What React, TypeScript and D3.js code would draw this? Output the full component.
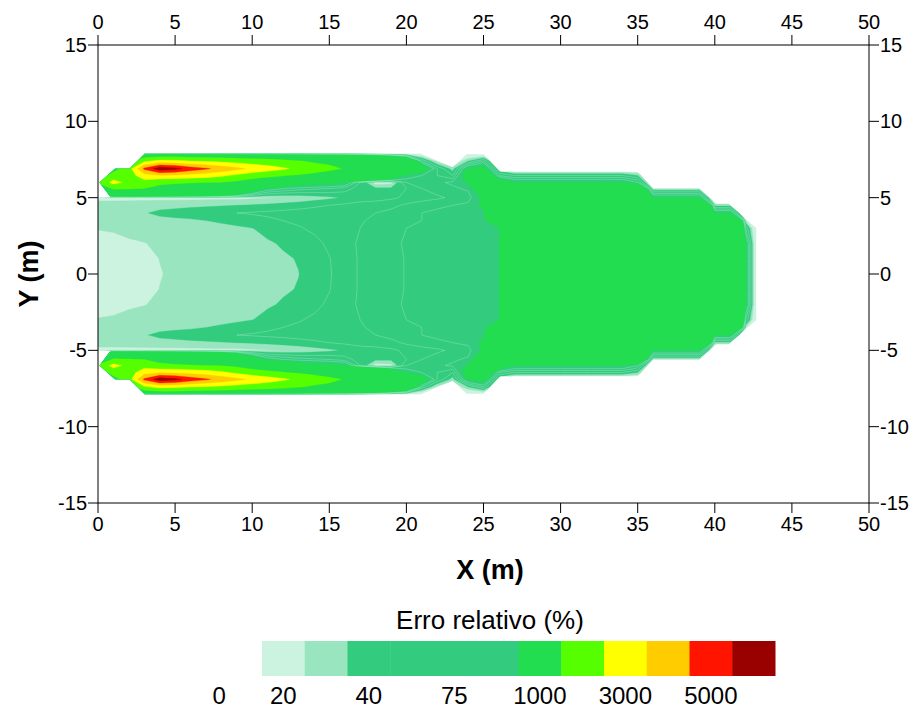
import React from "react";
import * as d3 from "d3";

// ---- grid nodes (m) ----
const xNodes = [0,1,2,3,4,5,6,7,8,9,10,11,12,13,14,15,16,17,18,19,20,21,22,23,24,25,26,27,28,29,30,31,32,33,34,35,36,37,38,39,40,41,42,42.7];
const yNodesUpper = [0,1,2,3,3.5,4,4.5,5,5.6,6,6.45,6.9,7.4,7.9];

// ---- relative error (%) read at grid nodes, upper half (field is symmetric about y=0) ----
const R300 = 300;
const errY0   = [12,13,14.5,17,19.7,21,22,23,24,25,26,27,28.2,29.8,34,39,46,51,54,57.5,60.5,63,65,67,69,71,74, R300,R300,R300,R300,R300,R300,R300,R300,R300,R300,R300,R300,R300,R300,R300, 80,-1];
const errY1   = [13,14,15.5,18,20.1,21.3,22.2,23.2,24.2,25.2,26.2,27.3,28.8,30.5,34.5,39.5,46,51,54,57.5,60.5,63,65,67,69,71,74, R300,R300,R300,R300,R300,R300,R300,R300,R300,R300,R300,R300,R300,R300,R300, 80,-1];
const errY2   = [16,17.5,19,19.8,21,22,23,24,25,26,27.3,28.8,31,34,37,42,47.5,51,54.5,58,61,63.5,65.5,67.5,69.5,71.5,74, R300,R300,R300,R300,R300,R300,R300,R300,R300,R300,R300,R300,R300,R300,R300, 80,-1];
const errY3   = [20.5,21,22,22.5,23,23.5,24,25,26.5,28,29.8,33,36,39,42,45,48,50,53,57,60,62,64,66,68,72,74, R300,R300,R300,R300,R300,R300,R300,R300,R300,R300,R300,R300,R300,R300,R300, 50,-1];
const errY3_5 = [22,22,23,24,26,27,28,30,32,34,36,38,40,42,44,46,48,49.5,51,54,57,60,62,64,67,70,110, R300,R300,R300,R300,R300,R300,R300,R300,R300,R300,R300,R300,R300,R300,R300, 20,-1];
const errY4   = [24.5,25,26,29,33,35,37,38,39,40,41,42,43,44,45,46,47,48,50,53,57,60,62,64,67,72,150, R300,R300,R300,R300,R300,R300,R300,R300,R300,R300,R300,R300,R300, 76,76,-1,-1];
const errY4_5 = [24,24,24.5,25,25.5,26,27,28,29,30,31,32.5,34,36,38,40,42,44,45,47,52,56,58,60,63,80,200, R300,R300,R300,R300,R300,R300,R300,R300,R300,R300,R300,R300,R300, 25,25,-1,-1];
const errY5   = [17,17,17,17,17,17,17,17,17,17,18,19,20,22,25,28,31,35,36,38,42,45,48,52,55,80,250, R300,R300,R300,R300,R300,R300,R300,R300,R300, 76,76,76,76, -1,-1,-1,-1];
const errY5_6 = [200,1100,1050,1000,865,700,600,480,350,220,110,70,60,55,52,50,45,35,32,32,40,50,55,58,62,110,250, R300,R300,R300,R300,R300,R300,R300,R300, 150, 20,20,20,20, -1,-1,-1,-1];
const errY6   = [1200,2300,1750,1600,1100,1080,1040,1000,960,800,500,200,130,100,90,85,78,40,14,16,50,55,58,62,78,150,110, 76,76,76,76,76,76,76,76, 60, -1,-1,-1,-1,-1,-1,-1,-1];
const errY6_45= [300,1400,1500,2600,2900,2800,2600,2450,2150,1800,1450,1250,1050,880,720,600,450,300,230,150,70,60,50,40,100,130,50, 40,40,40,40,40,40,40,40, 30, -1,-1,-1,-1,-1,-1,-1,-1];
const errY6_9 = [300,600,1500,4200,5600,5300,4600,4150,3650,3250,2800,2450,2150,1800,1450,1180,950,700,450,300,180,100,50,25,80,90,20, -1,-1,-1,-1,-1,-1,-1,-1,-1,-1,-1,-1,-1,-1,-1,-1,-1];
const errY7_4 = [-1,-1,500,1800,2270,2200,2000,1900,1750,1600,1450,1350,1200,1050,870,800,700,550,380,250,160,50,15,5,30,50,-1, -1,-1,-1,-1,-1,-1,-1,-1,-1,-1,-1,-1,-1,-1,-1,-1,-1];
const errY7_9 = [-1,-1,-1,-1,-1,-1,-1,-1,-1,-1,-1,-1,-1,-1,-1,-1,-1,-1,-1,-1,-1,-1,-1,-1,-1,-1,-1, -1,-1,-1,-1,-1,-1,-1,-1,-1,-1,-1,-1,-1,-1,-1,-1,-1];
const errRowsUpper = [errY0, errY1, errY2, errY3, errY3_5, errY4, errY4_5, errY5, errY5_6, errY6, errY6_45, errY6_9, errY7_4, errY7_9];

// ---- contour levels and colours ----
const levels = [0, 20, 30, 40, 50, 60, 75, 1000, 2000, 3000, 4000, 5000];
const levelColors = ["#CCF2E0", "#99E5BF", "#33CC7F", "#33CC7F", "#33CC7F", "#33CC7F", "#22DD50", "#55FF00", "#FFFF00", "#FFCC00", "#FF1400", "#990000"];
const lineLevels = [40, 50, 60];

// ---- model domain outline (upper half, m) ----
const boundaryX = [0, 0, 0.85, 0.1, 1.1, 2.05, 3.05, 20.9, 23.0, 23.9, 25.0, 26.1, 35, 36, 39, 40.1, 40.9, 42.7, 42.7];
const boundaryY = [0, 5.0, 5.0, 6.0, 6.9, 6.9, 7.9, 7.9, 7.0, 7.85, 7.85, 6.7, 6.7, 5.6, 5.6, 4.6, 4.6, 3.0, 0];

// ---- axes ----
const xTicks = [0, 5, 10, 15, 20, 25, 30, 35, 40, 45, 50];
const yTicks = [-15, -10, -5, 0, 5, 10, 15];
const legendLabels = ["0", "20", "40", "75", "1000", "3000", "5000"];
const legendLabelSlots = [-1.5, 0, 2, 4, 6, 8, 10];

const W = 919, H = 711;
const FONT = "'Liberation Sans', Arial, Helvetica, sans-serif";

function nodeMap(nodes: number[]) {
  return (g: number) => {
    const idx = g - 0.5;
    const n = nodes.length;
    let i = Math.floor(idx);
    if (i < 0) i = 0;
    if (i > n - 2) i = n - 2;
    const f = idx - i;
    return nodes[i] + f * (nodes[i + 1] - nodes[i]);
  };
}

export default function App() {
  const sx = d3.scaleLinear().domain([0, 50]).range([98, 869]);
  const sy = d3.scaleLinear().domain([-15, 15]).range([503, 45]);

  const yNodes = [...yNodesUpper.slice(1).map((v) => -v).reverse(), ...yNodesUpper];
  const rows = [...errRowsUpper.slice(1).reverse(), ...errRowsUpper];
  const nx = xNodes.length, ny = yNodes.length;
  const values = rows.flat();

  const gx = nodeMap(xNodes);
  const gy = nodeMap(yNodes);
  const proj = d3.geoTransform({
    point: function (this: any, x: number, y: number) {
      this.stream.point(sx(gx(x)), sy(gy(y)));
    },
  });
  const path = d3.geoPath(proj as any);

  const bands = d3.contours().size([nx, ny]).thresholds(levels)(values);
  const lines = d3.contours().size([nx, ny]).thresholds(lineLevels)(values);

  const upper = boundaryX.map((x, i) => [x, boundaryY[i]]);
  const lower = upper.slice().reverse().map(([x, y]) => [x, -y]);
  const outline = [...upper, ...lower];
  const clipD = d3.line()(outline.map(([x, y]) => [sx(x), sy(y)]) as any) + "Z";

  const boxW = (775 - 262) / levelColors.length;
  const lx = d3.scaleLinear().domain([0, levelColors.length]).range([262, 775]);

  return (
    <svg width={W} height={H} style={{ position: "absolute", left: 0, top: 0, background: "#fff" }} fontFamily={FONT}>
      <defs>
        <clipPath id="dom">
          <path d={clipD} />
        </clipPath>
      </defs>
      <rect x={0} y={0} width={W} height={H} fill="#fff" />
      <g clipPath="url(#dom)">
        {bands.map((c, i) => (
          <path key={i} d={path(c as any) || ""} fill={levelColors[i]} stroke={levelColors[i]} strokeWidth={0.3} />
        ))}
        {lines.map((c, i) => (
          <path key={"l" + i} d={path(c as any) || ""} fill="none" stroke="rgba(255,255,255,0.33)" strokeWidth={0.7} />
        ))}
      </g>
      {/* frame */}
      <rect x={sx(0)} y={sy(15)} width={sx(50) - sx(0)} height={sy(-15) - sy(15)} fill="none" stroke="#000" strokeWidth={1} />
      {xTicks.map((t) => (
        <g key={"xt" + t}>
          <line x1={sx(t)} x2={sx(t)} y1={sy(15)} y2={sy(15) - 10} stroke="#000" />
          <line x1={sx(t)} x2={sx(t)} y1={sy(-15)} y2={sy(-15) + 10} stroke="#000" />
          <text x={sx(t)} y={29} textAnchor="middle" fontSize={20}>{String(t)}</text>
          <text x={sx(t)} y={531} textAnchor="middle" fontSize={20}>{String(t)}</text>
        </g>
      ))}
      {yTicks.map((t) => (
        <g key={"yt" + t}>
          <line x1={sx(0) - 10} x2={sx(0)} y1={sy(t)} y2={sy(t)} stroke="#000" />
          <line x1={sx(50)} x2={sx(50) + 10} y1={sy(t)} y2={sy(t)} stroke="#000" />
          <text x={87} y={sy(t) + 7} textAnchor="end" fontSize={20}>{String(t)}</text>
          <text x={880} y={sy(t) + 7} textAnchor="start" fontSize={20}>{String(t)}</text>
        </g>
      ))}
      <text x={490} y={579} textAnchor="middle" fontSize={27} fontWeight="bold">X (m)</text>
      <text transform={`translate(38,274) rotate(-90)`} textAnchor="middle" fontSize={27} fontWeight="bold">Y (m)</text>
      {/* legend */}
      <text x={490} y={629} textAnchor="middle" fontSize={26}>Erro relativo (%)</text>
      {levelColors.map((c, i) => (
        <rect key={"lg" + i} x={lx(i)} y={641} width={boxW + 0.5} height={35} fill={c} />
      ))}
      {legendLabels.map((s, i) => (
        <text key={"ll" + i} x={lx(legendLabelSlots[i] + 0.5)} y={704} textAnchor="middle" fontSize={24}>{s}</text>
      ))}
    </svg>
  );
}
